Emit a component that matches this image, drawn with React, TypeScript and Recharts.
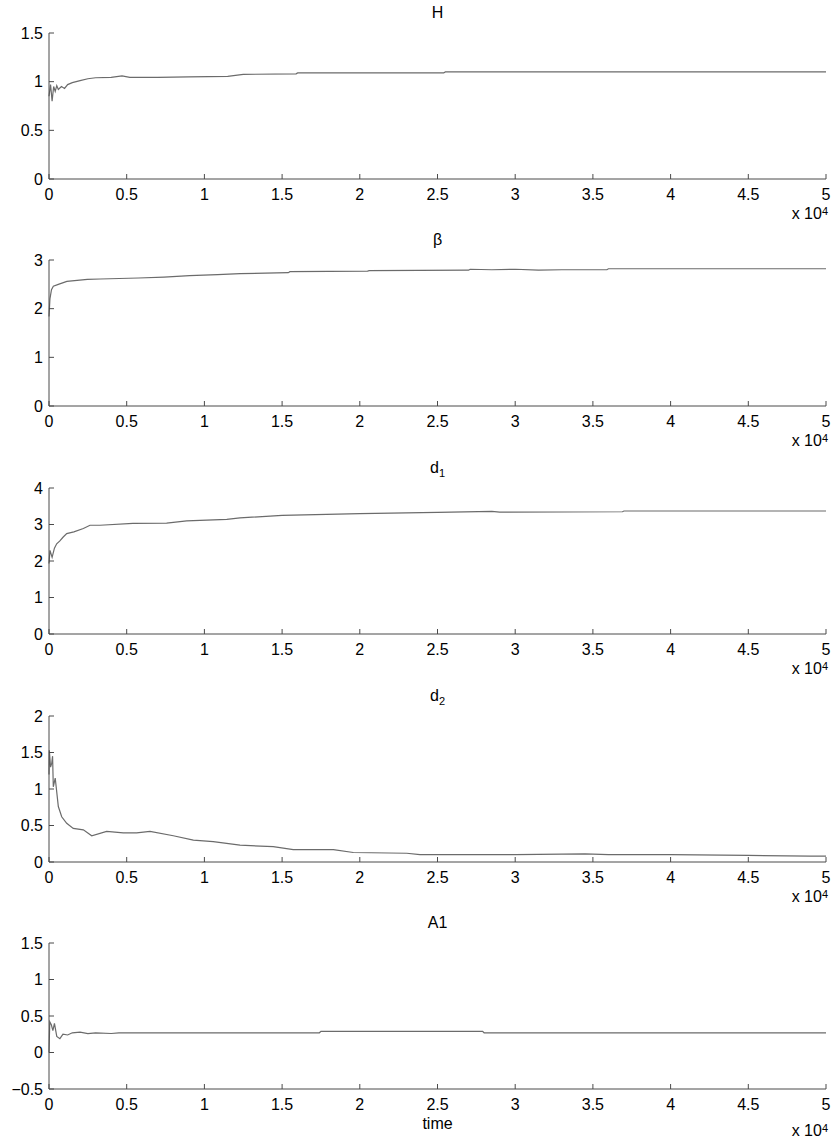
import { LineChart, Line, XAxis, YAxis } from "recharts";

// time axis (samples)
const hTime = [0, 100, 200, 300, 400, 500, 600, 800, 1000, 1200, 1500, 2000, 2500, 3000, 4000, 4700, 5200, 7000, 9000, 11500, 12500, 15900, 16000, 25400, 25500, 50000];
const hValues = [0.85, 0.97, 0.8, 0.95, 0.9, 0.96, 0.92, 0.95, 0.93, 0.97, 0.99, 1.01, 1.03, 1.04, 1.045, 1.06, 1.045, 1.045, 1.05, 1.055, 1.075, 1.08, 1.09, 1.09, 1.1, 1.1];

const betaTime = [0, 60, 160, 280, 600, 1150, 2470, 3300, 5760, 7400, 9050, 10850, 12300, 15400, 15500, 20500, 20600, 27000, 27100, 28500, 30000, 31500, 33000, 35900, 36000, 50000];
const betaValues = [1.84, 2.2, 2.39, 2.46, 2.5, 2.56, 2.6, 2.61, 2.63, 2.65, 2.68, 2.7, 2.72, 2.74, 2.76, 2.77, 2.78, 2.79, 2.81, 2.8, 2.81, 2.79, 2.8, 2.8, 2.82, 2.82];

const d1Time = [0, 64, 200, 350, 495, 700, 900, 1140, 1600, 2210, 2640, 3280, 5400, 7570, 8860, 11440, 12290, 15000, 20000, 25000, 28500, 29000, 36900, 37000, 50000];
const d1Values = [1.93, 2.29, 2.1, 2.35, 2.47, 2.55, 2.65, 2.75, 2.8, 2.89, 2.98, 2.98, 3.03, 3.04, 3.1, 3.14, 3.18, 3.25, 3.3, 3.33, 3.36, 3.34, 3.35, 3.37, 3.37];

const d2Time = [0, 20, 100, 174, 230, 277, 400, 600, 817, 1140, 1560, 2210, 2750, 3710, 4780, 5640, 6500, 8000, 9290, 10570, 12290, 14430, 15720, 18300, 19580, 23020, 23870, 30000, 34500, 36000, 40000, 45000, 49000, 50000];
const d2Values = [1.2, 1.53, 1.3, 1.35, 1.45, 1.03, 1.15, 0.76, 0.62, 0.53, 0.46, 0.44, 0.36, 0.42, 0.4, 0.4, 0.42, 0.36, 0.3, 0.28, 0.23, 0.21, 0.17, 0.17, 0.13, 0.12, 0.1, 0.1, 0.11, 0.1, 0.1, 0.09, 0.08, 0.08];

const a1Time = [0, 50, 150, 250, 350, 500, 700, 900, 1200, 1500, 2000, 2500, 3000, 4000, 4500, 17400, 17500, 27900, 28000, 50000];
const a1Values = [0.0, 0.42, 0.38, 0.3, 0.4, 0.22, 0.19, 0.25, 0.24, 0.27, 0.28, 0.26, 0.27, 0.26, 0.27, 0.27, 0.29, 0.29, 0.27, 0.27];

const xTicks = [0, 5000, 10000, 15000, 20000, 25000, 30000, 35000, 40000, 45000, 50000];

const AXIS = "#4a4a4a";
const LINE = "#6b6b6b";
const FONT = "'Liberation Sans', Arial, sans-serif";

const build = (t: number[], v: number[]) => t.map((x, i) => ({ t: x, v: v[i] }));

const panels = [
  { title: <>H</>, data: build(hTime, hValues), domain: [0, 1.5], ticks: [0, 0.5, 1, 1.5], top: 33 },
  { title: <>β</>, data: build(betaTime, betaValues), domain: [0, 3], ticks: [0, 1, 2, 3], top: 260 },
  { title: <>d<sub style={{ fontSize: 11 }}>1</sub></>, data: build(d1Time, d1Values), domain: [0, 4], ticks: [0, 1, 2, 3, 4], top: 488 },
  { title: <>d<sub style={{ fontSize: 11 }}>2</sub></>, data: build(d2Time, d2Values), domain: [0, 2], ticks: [0, 0.5, 1, 1.5, 2], top: 716 },
  { title: <>A1</>, data: build(a1Time, a1Values), domain: [-0.5, 1.5], ticks: [-0.5, 0, 0.5, 1, 1.5], top: 943 },
];

const PLOT_H = 146;
const MARGIN_TOP = 33;
const X_AXIS_H = 50;

export default function App() {
  return (
    <div
      style={{
        position: "absolute",
        left: 0,
        top: 0,
        width: 838,
        height: 1143,
        background: "#fff",
        fontFamily: FONT,
        color: "#000",
        overflow: "hidden",
      }}
    >
      {panels.map((p, i) => (
        <div key={i} style={{ position: "absolute", left: 0, top: p.top - MARGIN_TOP }}>
          {/* title */}
          <div
            style={{
              position: "absolute",
              left: 49,
              width: 777,
              top: MARGIN_TOP - 30,
              textAlign: "center",
              fontSize: 16,
              lineHeight: "20px",
            }}
          >
            {p.title}
          </div>
          <LineChart
            width={838}
            height={MARGIN_TOP + PLOT_H + X_AXIS_H}
            data={p.data}
            margin={{ top: MARGIN_TOP, right: 12, left: 0, bottom: 0 }}
          >
            <XAxis
              dataKey="t"
              type="number"
              domain={[0, 50000]}
              ticks={xTicks}
              interval={0}
              height={X_AXIS_H}
              tickSize={-5}
              tickMargin={15}
              stroke={AXIS}
              tick={{ fontSize: 16, fill: "#000", fontFamily: FONT }}
              tickFormatter={(v: number) => String(v / 10000)}
            />
            <YAxis
              type="number"
              domain={p.domain}
              ticks={p.ticks}
              interval={0}
              width={49}
              tickSize={-5}
              tickMargin={11}
              stroke={AXIS}
              allowDataOverflow
              tick={{ fontSize: 16, fill: "#000", fontFamily: FONT }}
              tickFormatter={(v: number) => String(v).replace("-", "\u2212")}
            />
            <Line
              type="linear"
              dataKey="v"
              stroke={LINE}
              strokeWidth={1.2}
              dot={false}
              isAnimationActive={false}
            />
          </LineChart>
          {/* exponent label */}
          <div
            style={{
              position: "absolute",
              right: 838 - 828,
              top: MARGIN_TOP + PLOT_H + (i === 4 ? 34 : 27),
              fontSize: 16,
              lineHeight: "16px",
              whiteSpace: "nowrap",
            }}
          >
            x 10<sup style={{ fontSize: 11, lineHeight: 0, verticalAlign: "4px" }}>4</sup>
          </div>
          {i === 4 && (
            <div
              style={{
                position: "absolute",
                left: 49,
                width: 777,
                top: MARGIN_TOP + PLOT_H + 27,
                textAlign: "center",
                fontSize: 16,
                lineHeight: "16px",
              }}
            >
              time
            </div>
          )}
        </div>
      ))}
    </div>
  );
}
